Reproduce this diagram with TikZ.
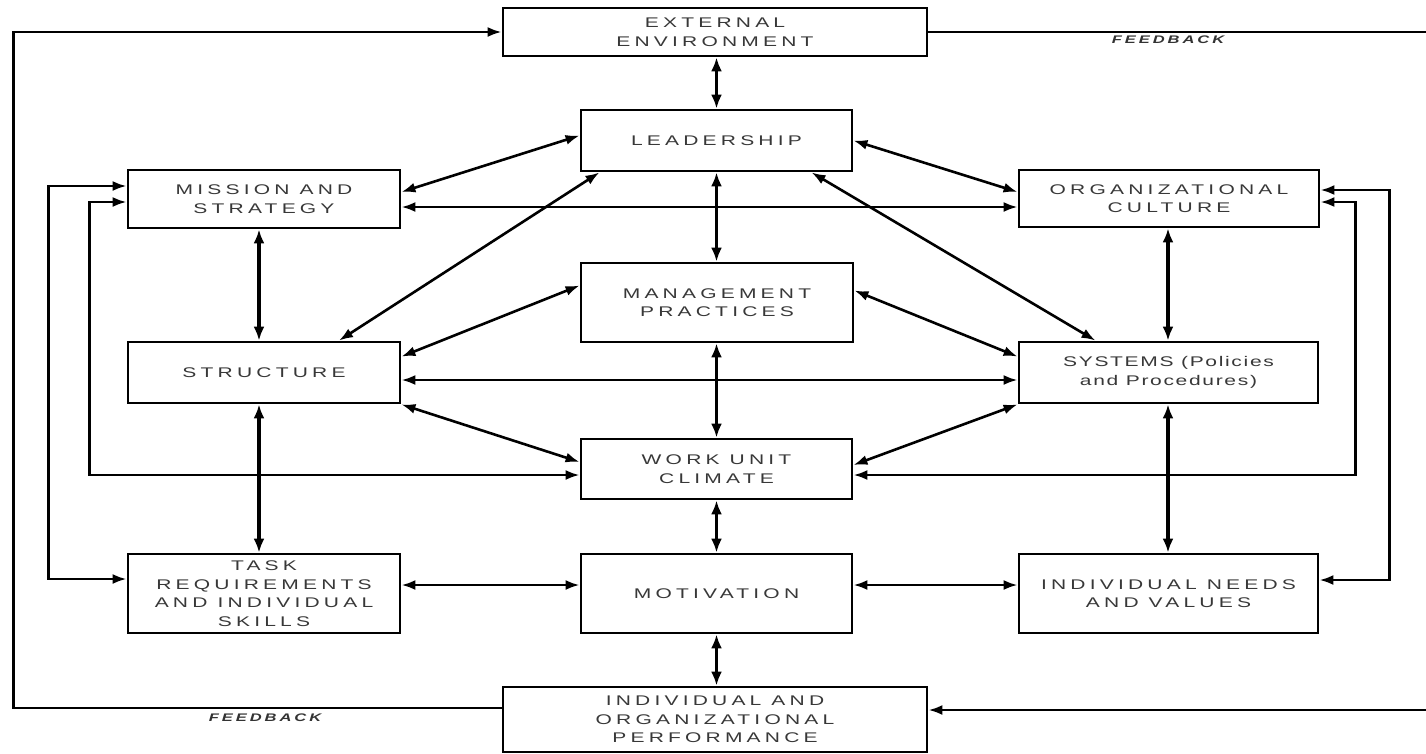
\documentclass[tikz,border=0pt]{standalone}
\usepackage{fontspec}
\usetikzlibrary{arrows.meta,calc}
\newfontfamily\boxfont[LetterSpace=20]{Liberation Sans}
\newfontfamily\fbfont[LetterSpace=18]{Liberation Sans}
\newcommand{\hstr}[1]{\scalebox{1.5}[1]{#1}}
\begin{document}
\begin{tikzpicture}[x=1pt,y=-1pt,
  box/.style={draw, line width=2.8pt, inner sep=0pt, align=center, text=black!78,
    font={\boxfont\fontsize{14}{18.5}\selectfont}},
  arr/.style={line width=2.6pt, {Latex[length=14pt,width=10pt]}-{Latex[length=14pt,width=10pt]}},
  thickarr/.style={line width=3.3pt, {Latex[length=14pt,width=11pt]}-{Latex[length=14pt,width=11pt]}},
  fwd/.style={line width=2.6pt, -{Latex[length=14pt,width=10pt]}},
  plain/.style={line width=2.6pt},
  fblabel/.style={font={\fbfont\itshape\bfseries\fontsize{11}{13}\selectfont}, text=black!80, inner sep=0pt}
]
\useasboundingbox[fill=white] (0,0) rectangle (1426,753);

% boxes
\node[box, minimum width=424pt, minimum height=48pt] (ext) at (715,32) {\hstr{EXTERNAL}\\\hstr{ENVIRONMENT}};
\node[box, minimum width=271pt, minimum height=61pt] (lead) at (716.5,140.5) {\hstr{LEADERSHIP}};
\node[box, minimum width=272pt, minimum height=58pt] (mission) at (264,199) {\hstr{MISSION AND}\\\hstr{STRATEGY}};
\node[box, minimum width=300pt, minimum height=57pt] (culture) at (1169,198.5) {\hstr{ORGANIZATIONAL}\\\hstr{CULTURE}};
\node[box, minimum width=272pt, minimum height=79pt] (mgmt) at (717,302.5) {\hstr{MANAGEMENT}\\\hstr{PRACTICES}};
\node[box, minimum width=272pt, minimum height=61pt] (structure) at (264,372.5) {\hstr{STRUCTURE}};
\node[box, minimum width=299pt, minimum height=61pt] (systems) at (1168.5,372.5) {\hstr{\addfontfeature{LetterSpace=8}SYSTEMS (Policies}\\\hstr{\addfontfeature{LetterSpace=8}and Procedures)}};
\node[box, minimum width=271pt, minimum height=60pt] (workunit) at (716.5,469) {\hstr{WORK UNIT}\\\hstr{CLIMATE}};
\node[box, minimum width=272pt, minimum height=79pt] (task) at (264,593.5) {\hstr{TASK}\\\hstr{REQUIREMENTS}\\\hstr{AND INDIVIDUAL}\\\hstr{SKILLS}};
\node[box, minimum width=271pt, minimum height=79pt] (motiv) at (716.5,593.5) {\hstr{MOTIVATION}};
\node[box, minimum width=299pt, minimum height=79pt] (needs) at (1168.5,593.5) {\hstr{INDIVIDUAL NEEDS}\\\hstr{AND VALUES}};
\node[box, minimum width=424pt, minimum height=65pt] (perf) at (715,719.5) {\hstr{INDIVIDUAL AND}\\\hstr{ORGANIZATIONAL}\\\hstr{PERFORMANCE}};

% feedback labels
\node[fblabel] (fbtop) at (1168,40) {\hstr{FEEDBACK}};
\node[fblabel] (fbbot) at (265,718) {\hstr{FEEDBACK}};

% central vertical spine
\draw[thickarr] (lead.north) -- (lead.north |- ext.south);
\draw[thickarr] (lead.south) -- (lead.south |- mgmt.north);
\draw[thickarr] (workunit.north) -- (workunit.north |- mgmt.south);
\draw[thickarr] (workunit.south) -- (motiv.north);
\draw[thickarr] (motiv.south) -- (motiv.south |- perf.north);

% side verticals
\draw[thickarr] ($(mission.south)+(-5,0)$) -- ($(structure.north)+(-5,0)$);
\draw[thickarr] ($(structure.south)+(-5,0)$) -- ($(task.north)+(-5,0)$);
\draw[thickarr] ($(culture.south)+(-1,0)$) -- ($(systems.north)+(-0.5,0)$);
\draw[thickarr] ($(systems.south)+(-0.5,0)$) -- ($(needs.north)+(-0.5,0)$);

% horizontals
\draw[arr] ($(mission.east)+(0,8)$) -- ($(culture.west)+(0,8.5)$);
\draw[arr] ($(structure.east)+(0,7.5)$) -- ($(systems.west)+(0,7.5)$);
\draw[arr] ($(task.east)+(0,-8.5)$) -- ($(motiv.west)+(0,-8.5)$);
\draw[arr] ($(motiv.east)+(0,-8.5)$) -- ($(needs.west)+(0,-8.5)$);

% diagonals
\draw[arr] ($(mission.east)+(0,-7)$) -- ($(lead.west)+(0,-5)$);
\draw[arr] (lead.east) -- ($(culture.west)+(0,-6.5)$);
\draw[arr] ($(structure.north)+(75,0)$) -- ($(lead.south)+(-117,0)$);
\draw[arr] ($(lead.south)+(95,0)$) -- ($(systems.north)+(-73,0)$);
\draw[arr] ($(structure.north east)+(0,16)$) -- ($(mgmt.west)+(0,-17)$);
\draw[arr] ($(mgmt.east)+(0,-12)$) -- ($(systems.north west)+(0,16)$);
\draw[arr] (structure.south east) -- ($(workunit.west)+(0,-7)$);
\draw[arr] (systems.south west) -- ($(workunit.east)+(0,-4)$);

% inner feedback loops
\draw[arr] ($(mission.west)+(0,-13)$) -- ++(-78,0) |- ($(task.west)+(0,-14.5)$);
\draw[arr] ($(mission.west)+(0,3)$) -- ++(-37,0) |- ($(workunit.west)+(0,6)$);
\draw[arr] ($(culture.east)+(0,-8.5)$) -- ++(69,0) |- ($(needs.east)+(0,-13.5)$);
\draw[arr] ($(culture.east)+(0,3.5)$) -- ++(35,0) |- ($(workunit.east)+(0,6)$);

% outer feedback
\draw[fwd] ($(perf.west)+(0,-11.5)$) -- ++(-488,0) |- (ext.west);
\coordinate (fbr1) at (1426,32);
\coordinate (fbr2) at (1426,710);
\draw[plain] (ext.east) -- (fbr1);
\draw[fwd] (fbr2) -- (perf.east |- fbr2);
\end{tikzpicture}
\end{document}
